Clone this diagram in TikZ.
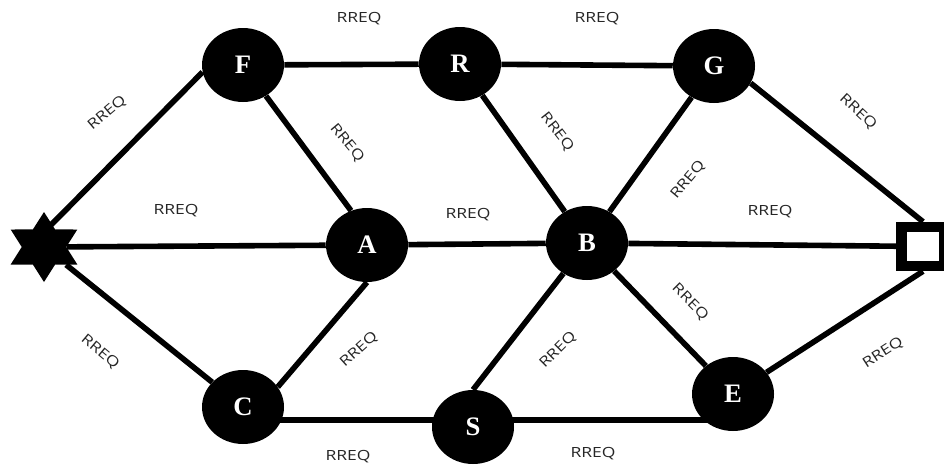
\documentclass[tikz,border=0pt]{standalone}
\usepackage{fontspec}
\usetikzlibrary{shapes.geometric,calc}
\newfontfamily\lblfont{Open Sans}
\newfontfamily\nodefont{Liberation Serif}
\newcommand\rreq{\scalebox{1.25}[1]{RREQ}}
\pgfdeclarelayer{background}
\pgfsetlayers{background,main}
\tikzset{
  router/.style={ellipse, fill=black, inner sep=0pt, minimum width=61.5pt, minimum height=55.5pt,
    text=white, font=\nodefont\fontsize{20}{24}\selectfont\bfseries},
  edge/.style={line width=4.2pt, black},
  lbl/.style={font=\lblfont\fontsize{10.5}{12}\selectfont, text=black!85, inner sep=0pt},
}
\begin{document}
\begin{tikzpicture}[x=0.75pt, y=-0.75pt]
\useasboundingbox (0,0) rectangle (944,464);
% nodes
\node[router] (F) at (243,65) {F};
\node[router] (R) at (460,64) {R};
\node[router] (G) at (714,66) {G};
\node[router] (A) at (367,245) {A};
\node[router] (B) at (587,243) {B};
\node[router] (C) at (243,407) {C};
\node[router] (S) at (473,427) {S};
\node[router] (E) at (733,394) {E};
\node[star, star points=6, star point ratio=1.73, fill=black, inner sep=0pt, minimum size=52.5pt, xscale=1.1] (src) at (44,247) {};
\node[rectangle, draw=black, line width=7.9pt, fill=white, minimum width=32.25pt, minimum height=29.25pt, inner sep=0pt] (dst) at (923,246.5) {};
\coordinate (srcup) at (44,232);
\coordinate (hl) at (473,420);
% connectors
\begin{pgfonlayer}{background}
\fill[white] (0,0) rectangle (944,464);
\draw[edge] (srcup) -- (F.190);
\draw[edge] (src) -- (A);
\draw[edge] (src) -- (C);
\draw[edge] (F) -- (R);
\draw[edge] (R) -- (G);
\draw[edge] (F) -- (A.115);
\draw[edge] (R) -- (B);
\draw[edge] (G) -- (B);
\draw[edge] (G.-25) -- (dst.north);
\draw[edge] (A) -- (B);
\draw[edge] (B) -- (dst);
\draw[edge] (B) -- (E);
\draw[edge] (E) -- (dst.south);
\draw[edge] (C.30) -- (A.south);
\draw[edge] (S.north) -- (B);
\draw[edge] (C.center |- hl) -- (hl);
\draw[edge] (hl) -- (E.center |- hl);
\end{pgfonlayer}
% labels
\node[lbl] (l1) at (359,19) {\rreq};
\node[lbl] (l2) at (597,19) {\rreq};
\node[lbl, rotate=40] (l3) at (107,113) {\rreq};
\node[lbl, rotate=-50] (l4) at (347,143) {\rreq};
\node[lbl, rotate=-52] (l5) at (557,132) {\rreq};
\node[lbl, rotate=50] (l6) at (688,180) {\rreq};
\node[lbl, rotate=-43] (l7) at (858,112) {\rreq};
\node[lbl] (l8) at (176,211) {\rreq};
\node[lbl] (l9) at (468,215) {\rreq};
\node[lbl] (l10) at (770,212) {\rreq};
\node[lbl, rotate=-40] (l11) at (100,352) {\rreq};
\node[lbl, rotate=42] (l12) at (359,350) {\rreq};
\node[lbl, rotate=45] (l13) at (558,350) {\rreq};
\node[lbl, rotate=-45] (l14) at (690,302) {\rreq};
\node[lbl, rotate=33] (l15) at (883,353) {\rreq};
\node[lbl] (l16) at (348,457) {\rreq};
\node[lbl] (l17) at (593,454) {\rreq};
\end{tikzpicture}
\end{document}
